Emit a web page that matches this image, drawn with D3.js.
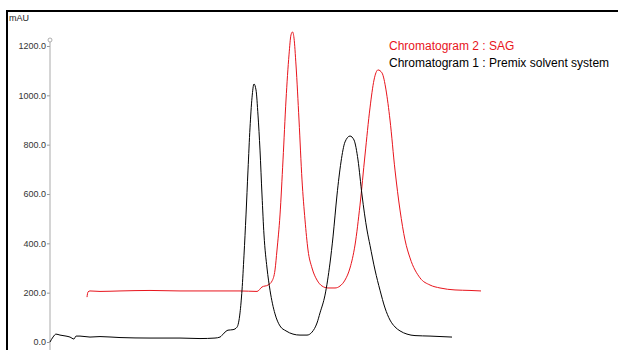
<!DOCTYPE html>
<html>
<head>
<meta charset="utf-8">
<script src="https://cdn.jsdelivr.net/npm/d3@7"></script>
<style>
  body { margin: 0; background: #fff; }
  svg { display: block; }
</style>
</head>
<body>
<div id="chart"></div>
<script>
// retention time (min) and signal (mAU)
const blackTime = [0, 0.15, 0.3, 0.5, 0.8, 1.0, 1.2, 1.3, 1.5, 2.0, 2.5, 3.5, 5.0, 6.5, 7.5, 8.25, 8.5, 8.7, 8.9, 9.15, 9.35,
  9.5, 9.6, 9.7, 9.8, 9.9, 10.0, 10.1, 10.2, 10.3, 10.4, 10.5, 10.6, 10.7, 10.85, 11.0, 11.25, 11.5, 11.8, 12.15, 12.5,
  12.85, 13.1, 13.35, 13.5, 13.75, 14.0, 14.15, 14.35, 14.55, 14.75, 15.0, 15.2, 15.4, 15.6, 15.85, 16.0, 16.25, 16.5,
  16.75, 17.0, 17.25, 17.5, 17.85, 18.25, 19.0, 20.1];
const blackSignal = [0, 20, 32, 28, 24, 20, 12, 24, 24, 20, 22, 18, 16, 16, 14, 16, 20, 36, 48, 50, 60,
  118, 210, 352, 515, 697, 868, 990, 1046, 1022, 920, 778, 596, 434, 300, 210, 114, 65, 45, 32, 28,
  28, 40, 77, 118, 190, 320, 426, 596, 730, 811, 835, 819, 738, 596, 454, 392, 292, 210, 138, 89, 61, 45, 32, 26, 24, 20];

const redTime = [1.85, 1.9, 2.0, 2.5, 3.5, 5.0, 6.5, 8.0, 9.5, 10.35, 10.6, 10.9, 11.1, 11.25, 11.35, 11.5, 11.65, 11.8,
  11.95, 12.05, 12.125, 12.2, 12.3, 12.45, 12.6, 12.75, 12.9, 13.1, 13.35, 13.6, 13.9, 14.25, 14.5, 14.75, 15.0, 15.25,
  15.5, 15.75, 16.0, 16.2, 16.4, 16.6, 16.8, 17.0, 17.25, 17.5, 17.75, 18.0, 18.5, 19.0, 19.5, 20.25, 21.0, 21.55];
const redSignal = [182, 203, 207, 205, 207, 209, 207, 207, 207, 205, 223, 231, 247, 292, 373, 515, 738, 981,
  1164, 1245, 1257, 1232, 1123, 900, 657, 495, 373, 300, 251, 227, 219, 219, 227, 251, 300, 393,
  555, 758, 949, 1062, 1103, 1091, 1022, 900, 697, 535, 414, 341, 260, 231, 219, 211, 209, 207];

const yTicks = [0, 200, 400, 600, 800, 1000, 1200];
const legendLabels = ["Chromatogram 2 : SAG", "Chromatogram 1 : Premix solvent system"];
const legendColors = ["#e8141c", "#000"];

const width = 618, height = 350;

const x = d3.scaleLinear().domain([0, 28]).range([50, 610]);
const y = d3.scaleLinear().domain([0, 1200]).range([342, 46]);

const svg = d3.select("#chart").append("svg")
  .attr("width", width).attr("height", height);

// frame (left + top edges only, the rest is cut off)
svg.append("path")
  .attr("d", "M7,350V11H618")
  .attr("fill", "none").attr("stroke", "#000").attr("stroke-width", 2);

svg.append("text")
  .attr("x", 9).attr("y", 21)
  .attr("font-family", "Liberation Sans, Arial, sans-serif")
  .attr("font-size", 9).attr("fill", "#222")
  .text("mAU");

// y axis
const yAxis = svg.append("g")
  .attr("transform", `translate(${x(0)},0)`)
  .call(d3.axisLeft(y).tickValues(yTicks).tickSize(3).tickFormat(d3.format(".1f")));
yAxis.select(".domain").remove();
yAxis.selectAll(".tick line").attr("stroke", "#999");
yAxis.selectAll(".tick text")
  .attr("font-family", "Liberation Sans, Arial, sans-serif")
  .attr("font-size", 9).attr("fill", "#333").attr("x", -4);

svg.append("line")
  .attr("x1", x(0)).attr("x2", x(0))
  .attr("y1", 42).attr("y2", height)
  .attr("stroke", "#aaa").attr("stroke-width", 1);
svg.append("circle")
  .attr("cx", x(0)).attr("cy", 40).attr("r", 2)
  .attr("fill", "#fff").attr("stroke", "#999").attr("stroke-width", 0.8);

const line = d3.line().x(d => x(d[0])).y(d => y(d[1])).curve(d3.curveMonotoneX);

svg.append("path")
  .datum(redTime.map((t, i) => [t, redSignal[i]]))
  .attr("fill", "none").attr("stroke", legendColors[0]).attr("stroke-width", 1)
  .attr("d", line);

svg.append("path")
  .datum(blackTime.map((t, i) => [t, blackSignal[i]]))
  .attr("fill", "none").attr("stroke", legendColors[1]).attr("stroke-width", 1)
  .attr("d", line);

svg.selectAll(".legend")
  .data(legendLabels)
  .join("text")
  .attr("class", "legend")
  .attr("x", 389)
  .attr("y", (d, i) => 50 + i * 17)
  .attr("font-family", "Liberation Sans, Arial, sans-serif")
  .attr("font-size", 12)
  .attr("fill", (d, i) => legendColors[i])
  .text(d => d);
</script>
</body>
</html>
